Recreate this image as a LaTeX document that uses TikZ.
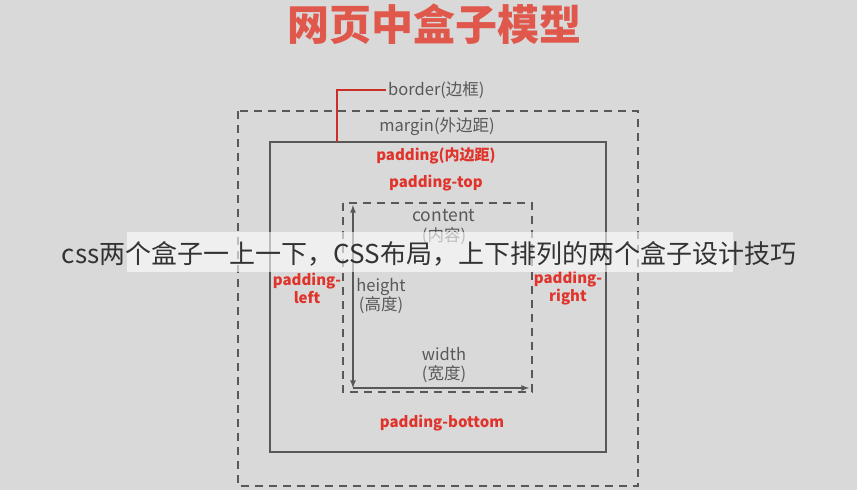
\documentclass[tikz,border=0pt]{standalone}
\usepackage{fontspec}
\setmainfont{Noto Sans CJK SC}
\newfontfamily\cjk{Noto Sans CJK SC}
\usepackage{xcolor}
\usepackage{tikz}
\usetikzlibrary{arrows}
\usetikzlibrary{positioning}
\definecolor{fondo}{HTML}{D9D9D9}
\definecolor{grigio}{HTML}{585858}
\definecolor{rosso}{HTML}{E0332B}
\definecolor{titolo}{HTML}{E0584C}
\tikzset{
	boxline/.style={draw=grigio, line width=2pt},
	boxdash/.style={draw=grigio, line width=2pt, dash pattern=on 8pt off 6pt},
	graylabel/.style={text=grigio, font=\fontsize{16.5}{19}\selectfont, inner sep=2pt, align=center},
	redlabel/.style={text=rosso, font=\bfseries\fontsize{15}{18}\selectfont, inner sep=2pt, align=center},
	dimarrow/.style={draw=grigio, line width=1.6pt, >=latex},
	callout/.style={draw=rosso!90!black, line width=1.5pt},
}

\begin{document}
\begin{tikzpicture}[x=1pt,y=-1pt]
\fill [fondo] (0,0) rectangle (857,490);
\useasboundingbox (0,0) rectangle (857,490);

\node at (434,24) (title) {\textcolor{titolo}{\bfseries\fontsize{42}{44}\selectfont 网页中盒子模型}};

% margin, border, content
\draw [boxdash] (238,111) rectangle (638,486);
\draw [boxline] (270,142) rectangle (606,452);
\draw [boxdash] (343,203) rectangle (532,392);

\coordinate (bordertip) at (337,142);
\node [graylabel, anchor=west] at (386,90) (borderlbl) {border(边框)};
\draw [callout] (bordertip) |- (borderlbl.west);

\node [graylabel] at (437,127) (margin) {margin(外边距)};
\node [redlabel] at (436,156) (padding) {padding(内边距)};
\node [redlabel] at (436,183) (ptop) {padding-top};
\node [redlabel] at (442,423) (pbottom) {padding-bottom};
\node [redlabel] at (307,288) (pleft) {padding-\\left};
\node [redlabel] at (568,288) (pright) {padding-\\right};

\node [graylabel, font=\fontsize{17.5}{19}\selectfont] at (444,216) (content) {content};
\node [graylabel, below=1pt of content] (contentzh) {(内容)};
\node [graylabel] at (381,296) (height) {height\\(高度)};
\node [graylabel] at (444,365) (width) {width\\(宽度)};

\coordinate (corner) at (353,388);
\coordinate (htop) at (353,205);
\coordinate (wend) at (529,388);
\draw [dimarrow,<->] (corner) -- (htop);
\draw [dimarrow,->] (corner) -- (wend);

% caption band
\fill [white, opacity=0.6] (127,232) rectangle (733,272);
\node at (429,254) (caption) {\cjk\color{black!80}\fontsize{26}{28}\selectfont css两个盒子一上一下，CSS布局，上下排列的两个盒子设计技巧};

\end{tikzpicture}
\end{document}
